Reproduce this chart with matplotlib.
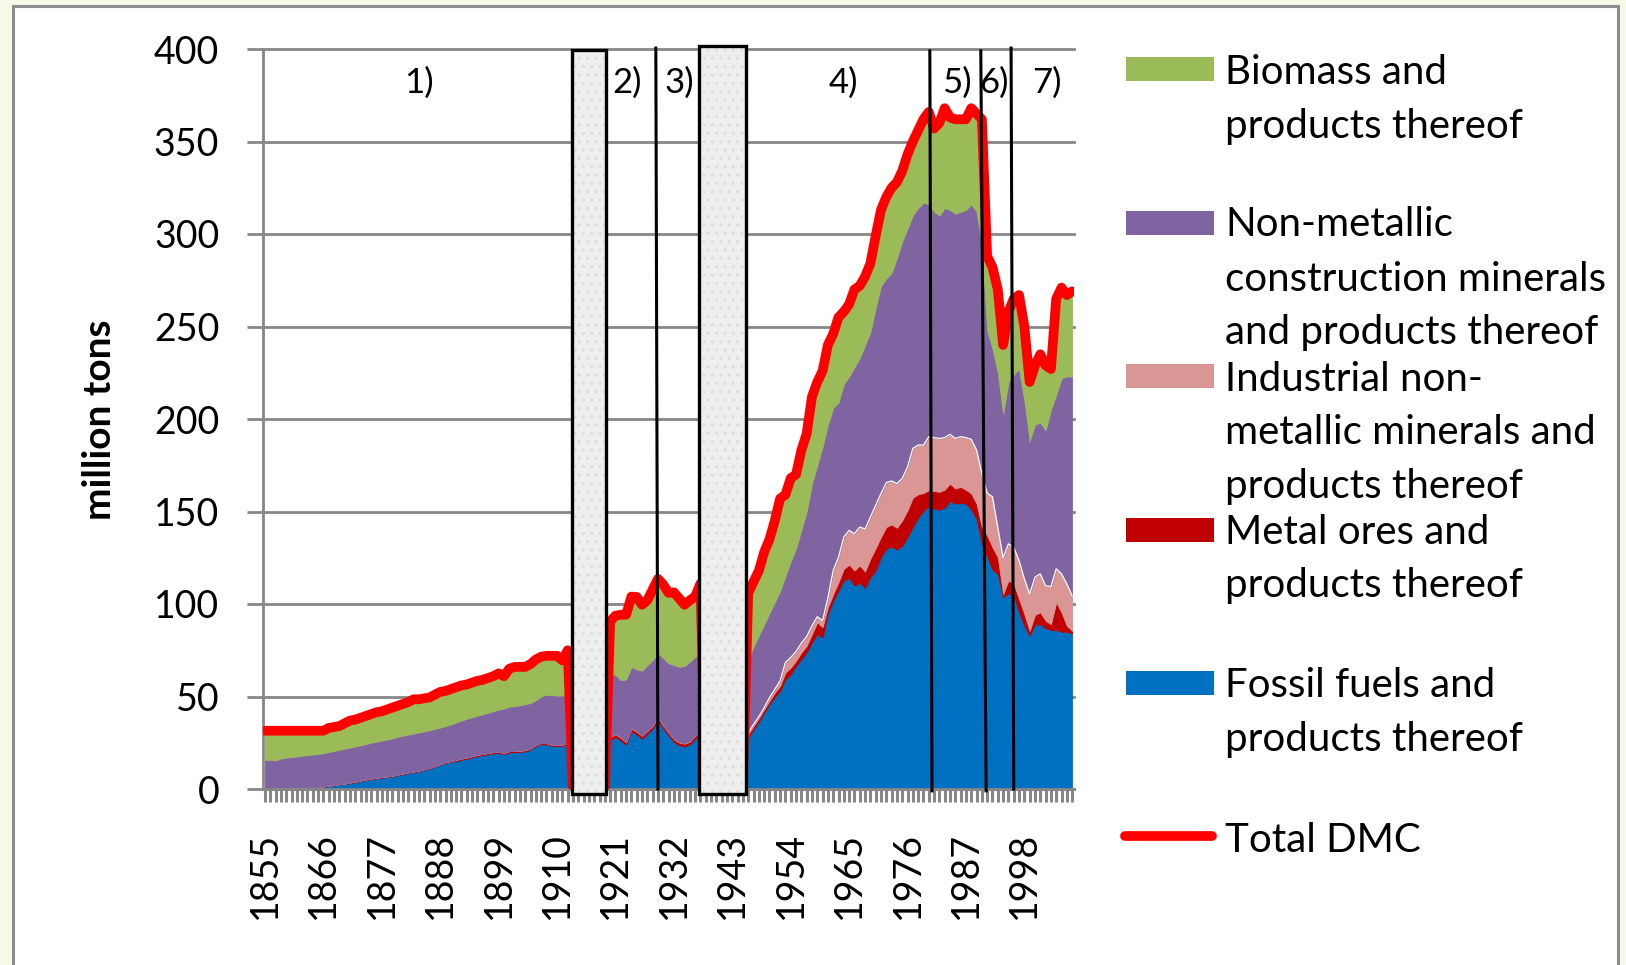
import numpy as np
import matplotlib
matplotlib.use('Agg')
import matplotlib.pyplot as plt
from matplotlib.patches import Rectangle
from matplotlib.lines import Line2D

plt.rcParams['font.family'] = ['Lato', 'DejaVu Sans']

years = np.arange(1855, 2008)
label_years = [1855, 1866, 1877, 1888, 1899, 1910, 1921, 1932, 1943, 1954, 1965, 1976, 1987, 1998]

# million tons; war years (1913-1919, 1938-1945) are zero, hidden behind the grey boxes
fossil = (
    [0.0, 0.1, 0.2, 0.3, 0.4, 0.5, 0.6, 0.7, 0.8, 0.9, 1.0, 1.2, 1.6, 2.0, 2.4, 2.8,
     3.1, 3.6, 4.2, 4.8, 5.3, 5.7, 6.1, 6.4, 6.8, 7.4, 8.0, 8.6, 9.1, 9.6, 10.4, 11.1, 12.1, 13.1, 14.1, 14.8,
     15.1, 15.8, 16.3, 17.1, 17.8, 18.3, 18.8, 19.3, 19.5, 18.8, 19.8, 19.9, 20.1, 20.3, 21.3, 23.3, 24.3,
     24.1, 23.3, 23.1, 23.3, 24.3]
    + [0] * 7
    + [26.6, 28.1, 26.2, 23.9, 31.2, 29.5, 27.2, 29.9, 32.6, 37.2, 32.6, 29.0, 25.4, 23.6, 23.0, 24.1, 27.2, 29.2]
    + [0] * 8
    + [27.7, 32.2, 36.3, 41.2, 45.8, 49.7, 53.0, 59.3, 62.0, 66.5,
       70.2, 73.8, 79.2, 83.7, 82.0, 94.6, 101.8, 107.2, 112.7, 114.1,
       109.9, 111.4, 108.7, 114.5, 118.1, 125.3, 129.8, 131.1, 129.3, 131.6,
       136.2, 141.6, 146.7, 150.3, 152.8, 151.5, 151.0, 152.1, 155.7, 154.2,
       154.8, 154.2, 151.0, 146.1, 132.5, 125.7, 118.4, 116.3, 103.6, 105.8,
       104.5, 95.5, 88.2, 82.8, 89.0, 89.0, 87.0, 86.0, 86.0, 85.0,
       85.0, 84.0]
)
metal = (
    [0.2] * 16 + [0.4] * 20 + [0.7] * 22
    + [0] * 7
    + [1.5] * 18
    + [0] * 8
    + [1.8, 1.8, 1.9, 1.8, 1.8, 2.4, 2.7, 3.6, 3.6, 2.8,
       3.6, 3.6, 4.5, 6.4, 5.5, 3.6, 3.6, 4.6, 6.3, 7.2,
       8.2, 9.4, 8.8, 9.9, 12.1, 10.9, 11.8, 11.9, 11.9, 13.6,
       14.4, 15.9, 12.6, 9.7, 8.7, 9.6, 9.6, 9.7, 9.4, 8.2,
       8.5, 7.6, 8.7, 8.1, 9.1, 11.4, 12.3, 9.0, 1.8, 6.9,
       6.4, 7.2, 6.4, 2.7, 5.2, 6.5, 4.0, 3.1, 14.9, 10.5,
       3.2, 1.5]
)
industrial = (
    [0.0] * 58
    + [0] * 7
    + [0.3] * 18
    + [0] * 8
    + [0.9, 0.9, 0.9, 0.9, 1.8, 1.8, 2.7, 5.5, 5.5, 5.0,
       5.0, 5.0, 4.5, 3.0, 3.5, 5.0, 12.7, 13.5, 17.2, 18.5,
       19.9, 20.8, 23.0, 22.6, 23.1, 23.5, 24.0, 23.5, 23.9, 22.6,
       23.5, 26.6, 26.6, 25.9, 28.9, 28.8, 28.9, 28.1, 26.6, 27.1,
       27.1, 28.1, 29.3, 29.0, 28.9, 22.9, 27.2, 16.3, 19.6, 19.8,
       19.8, 20.8, 19.0, 19.9, 20.3, 20.8, 18.9, 20.3, 18.1, 20.8,
       22.7, 19.0]
)
construction = (
    [15.5, 15.5, 15.1, 16.0, 16.4, 16.6, 16.8, 17.1, 17.3, 17.5, 17.8, 18.0, 18.2, 18.4, 18.6, 18.8,
     18.9, 19.0, 19.0, 19.1, 19.3, 19.5, 19.7, 20.0, 20.2, 20.4, 20.4, 20.4, 20.5, 20.6, 20.4, 20.3, 20.0, 19.7,
     19.5, 19.8,
     20.2, 20.5, 21.0, 21.0, 21.1, 21.4, 21.7, 22.0, 22.8, 24.0, 24.0, 24.2, 24.5, 24.8, 24.5, 24.0, 25.0,
     26.2, 26.8, 26.7, 26.5, 27.0]
    + [0] * 7
    + [34.1, 31.7, 30.9, 33.5, 33.0, 33.4, 35.0, 35.3, 35.3, 34.4, 36.3, 37.2, 39.8, 40.6, 41.7, 42.9, 42.5, 42.0]
    + [0] * 8
    + [39.6, 42.1, 43.9, 45.1, 45.6, 47.1, 48.6, 46.6, 51.9, 55.7,
       61.2, 67.6, 76.8, 81.9, 94.0, 93.8, 87.9, 83.7, 82.8, 83.2,
       90.0, 91.4, 99.5, 100.0, 106.7, 112.3, 110.4, 112.5, 121.9, 128.2,
       128.9, 125.9, 128.1, 131.1, 125.6, 122.1, 120.5, 124.1, 121.3, 121.5,
       121.6, 123.1, 127.0, 128.8, 124.5, 88.0, 80.1, 83.4, 78.0, 87.5,
       93.3, 103.5, 96.4, 82.6, 82.5, 81.7, 84.1, 95.6, 94.0, 105.7,
       112.1, 118.5]
)
biomass = (
    [15.8, 15.7, 16.0, 15.0, 14.5, 14.2, 13.9, 13.5, 13.2, 12.9, 12.5, 12.1, 13.0, 12.9, 12.8, 13.7,
     14.6, 14.5, 14.9, 15.2, 15.5, 15.9, 15.8, 16.2, 16.6, 16.8, 17.2, 17.6, 18.5, 17.9, 17.8, 17.7, 18.5, 19.3,
     19.0, 19.0,
     19.0, 19.0, 18.5, 18.7, 18.9, 18.6, 18.8, 19.0, 19.5, 17.5, 20.5, 21.2, 20.7, 20.2, 21.0, 22.0, 21.5,
     21.0, 21.2, 21.5, 19.0, 23.0]
    + [0] * 7
    + [28.1, 32.1, 35.3, 35.0, 38.0, 39.1, 35.6, 35.0, 38.1, 40.2, 39.8, 38.0, 39.3, 37.0, 33.1, 33.2, 32.5, 38.0]
    + [0] * 8
    + [36, 35, 35, 39, 40, 44, 50, 44, 45, 40,
       43, 42, 47, 45, 41, 43, 40, 46, 39, 39,
       42, 39, 37, 37, 39, 41, 44, 46, 41, 38,
       40, 40, 42, 45, 50, 45, 50, 54, 50, 51,
       50, 49, 52, 53, 67, 40, 44, 45, 37, 38,
       41, 40, 40, 32, 32, 37, 35, 22, 52, 49,
       44, 46]
)

series_names = [
    ['Fossil fuels and', 'products thereof'],
    ['Metal ores and', 'products thereof'],
    ['Industrial non-', 'metallic minerals and', 'products thereof'],
    ['Non-metallic', 'construction minerals', 'and products thereof'],
    ['Biomass and', 'products thereof'],
]
colors = ['#0070C0', '#C00000', '#D99694', '#8064A2', '#9BBB59']
period_labels = ['1)', '2)', '3)', '4)', '5)', '6)', '7)']
period_label_x = [1884, 1923.2, 1933, 1964, 1985.3, 1992.3, 2002.2]

layers = np.array([fossil, metal, industrial, construction, biomass], dtype=float)
total = layers.sum(axis=0)

W, H = 1626, 965
fig = plt.figure(figsize=(W / 100, H / 100), dpi=100, facecolor='#F7F9E6')

# white panel with grey frame
fig.add_artist(Rectangle((12.7 / W, -0.05), (1618 - 12.7) / W, 1.05 - 6 / H,
                         transform=fig.transFigure, facecolor='white',
                         edgecolor='#8C8C8C', lw=2.2, zorder=-5))

ax = fig.add_axes([263 / W, (H - 789) / H, (1074 - 263) / W, (789 - 49) / H])
ax.set_facecolor('none')

polys = ax.stackplot(years, layers, colors=colors, lw=0.6, zorder=1)
for p, c in zip(polys, colors):
    p.set_edgecolor(c)

# thin white rim on top of the industrial minerals layer
pink_top = np.where(layers[2] > 0.5, layers[:3].sum(axis=0), np.nan)
ax.plot(years, pink_top, color='white', lw=0.9, zorder=2)

ax.plot(years, total, color='#FF0000', lw=7, solid_capstyle='round',
        solid_joinstyle='round', zorder=3)

# war gaps
for x0, x1, y1 in [(1912.8, 1919.2, 399.5), (1936.8, 1945.6, 401.8)]:
    ax.add_patch(Rectangle((x0, -2.5), x1 - x0, y1 + 2.5, facecolor='#EEEEEE',
                           edgecolor='#DCDCDC', hatch='..', lw=0, zorder=4, clip_on=False))
    ax.add_patch(Rectangle((x0, -2.5), x1 - x0, y1 + 2.5, fill=False,
                           edgecolor='black', lw=2.4, zorder=5, clip_on=False))

# period separators
for xt, xb, yt, yb in [(1928.6, 1929.0, 400.5, 0), (1980.2, 1980.6, 399, -1),
                       (1989.8, 1990.8, 399, -1), (1995.5, 1996.0, 400.5, 0)]:
    ax.plot([xt, xb], [yt, yb], color='black', lw=2.2, zorder=5, clip_on=False)

for lab, x in zip(period_labels, period_label_x):
    ax.text(x, 382, lab, ha='center', va='center', fontsize=25, zorder=6)

ax.set_xlim(1854.62, 2007.35)
ax.set_ylim(0, 400)
ax.set_yticks(range(0, 401, 50))
ax.yaxis.grid(True, color='#878787', lw=2.0)
for gl in ax.yaxis.get_gridlines():
    gl.set_clip_on(False)
ax.set_axisbelow(True)
for s in ['top', 'right']:
    ax.spines[s].set_visible(False)
for s in ['left', 'bottom']:
    ax.spines[s].set_color('#878787')
    ax.spines[s].set_linewidth(2.0)
ax.set_xticks(years)
ax.set_xticklabels([str(y) if y in label_years else '' for y in years])
ax.tick_params(axis='y', length=11.5, width=2.0, color='#878787', pad=20, labelsize=27)
ax.tick_params(axis='x', length=9.7, width=2.2, color='#878787', pad=21, labelsize=27,
               labelrotation=90)

fig.text(99.5 / W, 1 - 420 / H, 'million tons', rotation=90, ha='center', va='center',
         fontsize=28, fontweight='bold')

# legend, drawn by hand to follow the original layout
legend_rows = [
    (4, 69, [83.5, 138]),
    (3, 223, [236, 291, 344]),
    (2, 376, [391, 443.5, 497.5]),
    (1, 530, [544, 597.5]),
    (0, 683, [697, 750.5]),
]
for idx, cy, baselines in legend_rows:
    fig.add_artist(Rectangle((1126 / W, 1 - (cy + 12) / H), 88 / W, 24 / H,
                             transform=fig.transFigure, facecolor=colors[idx], lw=0))
    for txt, by in zip(series_names[idx], baselines):
        fig.text(1225 / W, 1 - by / H, txt, ha='left', va='baseline', fontsize=29)
fig.add_artist(Line2D([1125 / W, 1212 / W], [1 - 835.5 / H, 1 - 835.5 / H],
                      transform=fig.transFigure, color='#FF0000', lw=7,
                      solid_capstyle='round'))
fig.text(1225 / W, 1 - 851.5 / H, 'Total DMC', ha='left', va='baseline', fontsize=29)

fig.savefig('out.png', dpi=100, facecolor=fig.get_facecolor())
